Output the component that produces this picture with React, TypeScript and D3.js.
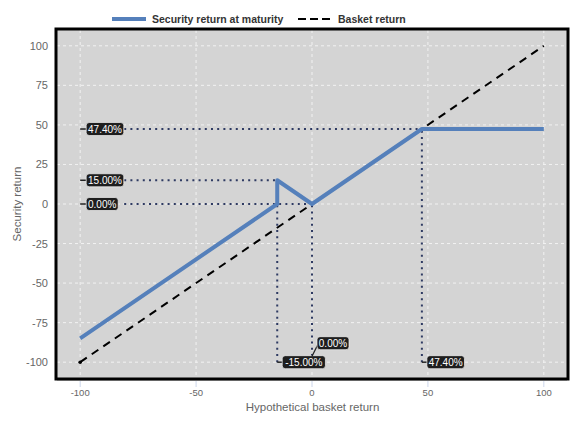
import * as d3 from 'd3';

// Payoff profile of the security vs. the underlying basket
const securityPoints: [number, number][] = [
  [-100, -85],
  [-15, 0],
  [-15, 15],
  [0, 0],
  [47.4, 47.4],
  [100, 47.4],
];
const basketPoints: [number, number][] = [
  [-100, -100],
  [100, 100],
];

// Reference levels marked with dotted guides
const levelMarks = [47.4, 15, 0];
const breakpoints: [number, number][] = [
  [-15, 15],
  [0, 0],
  [47.4, 47.4],
];

const xTicks = [-100, -50, 0, 50, 100];
const yTicks = [100, 75, 50, 25, 0, -25, -50, -75, -100];

const seriesNames = ['Security return at maturity', 'Basket return'];

const W = 583;
const H = 438;
const FONT = '"Liberation Sans", Arial, sans-serif';

const fmt = (v: number) => `${v.toFixed(2)}%`;

function Badge({ x, y, text }: { x: number; y: number; text: string }) {
  const w = text.length * 5.6 + 4;
  return (
    <g>
      <rect x={x} y={y - 6.5} width={w} height={13} rx={3} fill="#1e1e1e" stroke="#f4f4f4" strokeWidth={0.7} />
      <text x={x + w / 2} y={y + 3.5} textAnchor="middle" fontSize={10} fill="#fff" fontFamily={FONT}>
        {text}
      </text>
    </g>
  );
}

export default function App() {
  const x = d3.scaleLinear().domain([-110, 110]).range([57, 567]);
  const y = d3.scaleLinear().domain([-110, 110]).range([378, 30]);

  const line = d3
    .line<[number, number]>()
    .x((d) => x(d[0]))
    .y((d) => y(d[1]));

  const [x0, x1] = x.range();
  const [y1, y0] = y.range();
  const dotColor = '#2e3a62';
  const dots = '2,4.2';

  return (
    <svg width={W} height={H} style={{ position: 'absolute', left: 0, top: 0 }} fontFamily={FONT}>
      <rect width={W} height={H} fill="#fff" />

      {/* legend */}
      <g>
        <line x1={112} x2={146} y1={19} y2={19} stroke="#5580bb" strokeWidth={4} />
        <text x={152} y={23} fontSize={10.5} fontWeight="bold" fill="#333">
          {seriesNames[0]}
        </text>
        <line x1={298} x2={330} y1={19} y2={19} stroke="#000" strokeWidth={2} strokeDasharray="8,4" />
        <text x={338} y={23} fontSize={10.5} fontWeight="bold" fill="#333">
          {seriesNames[1]}
        </text>
      </g>

      {/* plot area */}
      <rect x={x0} y={y0} width={x1 - x0} height={y1 - y0} fill="#d4d4d4" />
      <line x1={x0} x2={x1} y1={y1 + 2} y2={y1 + 2} stroke="#999" strokeWidth={1} />

      {/* grid */}
      {xTicks.map((t) => (
        <line key={`gx${t}`} x1={x(t)} x2={x(t)} y1={y0} y2={y1} stroke="#f2f2f2" strokeWidth={1} strokeDasharray="3,3" />
      ))}
      {yTicks.map((t) => (
        <line key={`gy${t}`} x1={x0} x2={x1} y1={y(t)} y2={y(t)} stroke="#f2f2f2" strokeWidth={1} strokeDasharray="3,3" />
      ))}

      {/* dotted guides */}
      {levelMarks.map((v) => {
        const bp = breakpoints.find((b) => b[1] === v)!;
        return (
          <line key={`hl${v}`} x1={x(-100) + 44} x2={x(bp[0])} y1={y(v)} y2={y(v)} stroke={dotColor} strokeWidth={2} strokeDasharray={dots} />
        );
      })}
      {breakpoints.map((b) => (
        <line key={`vl${b[0]}`} x1={x(b[0])} x2={x(b[0])} y1={y(-100)} y2={y(b[1])} stroke={dotColor} strokeWidth={2} strokeDasharray={dots} />
      ))}

      {/* series */}
      <path d={line(basketPoints)!} fill="none" stroke="#000" strokeWidth={2} strokeDasharray="8,6" />
      <circle cx={x(-100)} cy={y(-100)} r={1.8} fill="#000" />
      <path d={line(securityPoints)!} fill="none" stroke="#5580bb" strokeWidth={4} strokeLinejoin="round" />

      {/* frame */}
      <rect x={x0 - 1} y={y0 - 1} width={x1 - x0 + 2} height={y1 - y0 + 2} fill="none" stroke="#000" strokeWidth={3} />

      {/* value badges on the left */}
      {levelMarks.map((v) => (
        <g key={`lb${v}`}>
          <line x1={x(-100)} x2={x(-100) + 6} y1={y(v)} y2={y(v)} stroke="#222" strokeWidth={1.5} />
          <Badge x={x(-100) + 6} y={y(v)} text={fmt(v)} />
        </g>
      ))}

      {/* value badges at the bottom */}
      {breakpoints.map((b) => {
        const bx = x(b[0]);
        const by = y(-100);
        if (b[0] === 0) {
          return (
            <g key={`bb${b[0]}`}>
              <line x1={bx} x2={bx + 6} y1={by - 6} y2={by - 18} stroke="#222" strokeWidth={1.2} />
              <Badge x={bx + 5} y={by - 19} text={fmt(b[0])} />
            </g>
          );
        }
        return (
          <g key={`bb${b[0]}`}>
            <line x1={bx} x2={bx + 6} y1={by} y2={by} stroke="#222" strokeWidth={1.5} />
            <Badge x={bx + 5} y={by} text={fmt(b[0])} />
          </g>
        );
      })}

      {/* x axis */}
      {xTicks.map((t) => (
        <g key={`xt${t}`}>
          <line x1={x(t)} x2={x(t)} y1={y1 + 3} y2={y1 + 9} stroke="#ccd6eb" strokeWidth={1} />
          <text x={x(t)} y={y1 + 18} textAnchor="middle" fontSize={9.5} fill="#666">
            {t}
          </text>
        </g>
      ))}
      <text x={(x0 + x1) / 2 + 0.5} y={411} textAnchor="middle" fontSize={11.5} fill="#666">
        Hypothetical basket return
      </text>

      {/* y axis */}
      {yTicks.map((t) => (
        <text key={`yt${t}`} x={x0 - 9} y={y(t) + 4} textAnchor="end" fontSize={11} fill="#666">
          {t}
        </text>
      ))}
      <text transform={`translate(21,${(y0 + y1) / 2}) rotate(-90)`} textAnchor="middle" fontSize={11.5} fill="#666">
        Security return
      </text>
    </svg>
  );
}
